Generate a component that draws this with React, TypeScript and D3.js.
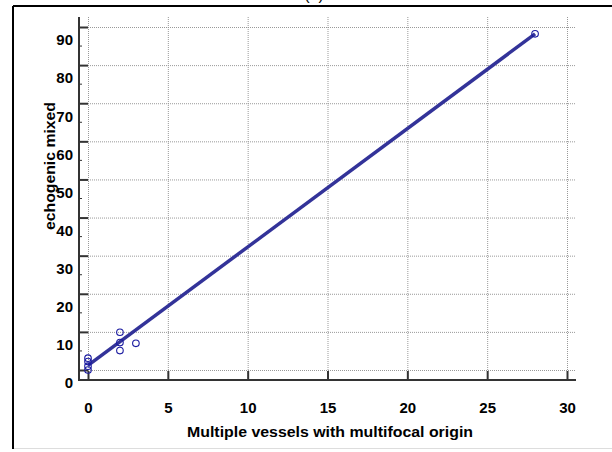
import React, { useEffect, useRef } from 'react';
import * as d3 from 'd3';

// observed points
const vessels = [0, 0, 0, 0, 2, 2, 2, 3, 28];
const mixed = [3.1, 2.2, 1, 0, 9.9, 7.2, 5.1, 7, 88.2];

// fitted line ends
const fitX = [0, 28];
const fitY = [1.2, 88.2];

const xTicks = [0, 5, 10, 15, 20, 25, 30];
const yTicks = [0, 10, 20, 30, 40, 50, 60, 70, 80, 90];
const yMinor = [5, 15, 25, 35, 45, 55, 65, 75, 85];

const FONT = '"Liberation Sans", Arial, sans-serif';

export default function App() {
  const ref = useRef<SVGSVGElement>(null);

  useEffect(() => {
    const svg = d3.select(ref.current);
    svg.selectAll('*').remove();

    const xScale = d3.scaleLinear().domain([0, 30]).range([88, 567]);
    const yScale = d3.scaleLinear().domain([0, 90]).range([370, 27]);

    const axisX = xScale(0) - 9;
    const axisY = yScale(0) + 10;
    const xEnd = xScale(30) + 9;
    const yTop = yScale(90) - 10;

    // frame
    svg.append('line').attr('x1', 13).attr('y1', 6).attr('x2', 612).attr('y2', 6)
      .attr('stroke', '#000').attr('stroke-width', 2);
    svg.append('line').attr('x1', 13).attr('y1', 6).attr('x2', 13).attr('y2', 449)
      .attr('stroke', '#000').attr('stroke-width', 2);
    svg.append('line').attr('x1', 14).attr('y1', 448.5).attr('x2', 612).attr('y2', 448.5)
      .attr('stroke', '#ddd').attr('stroke-width', 1);

    // title, cut by the top of the frame as in the original
    svg.append('text').attr('x', 314).attr('y', -0.5).attr('text-anchor', 'middle')
      .style('font-family', FONT).style('font-size', '16px').text('(b)');

    // grid
    const grid = svg.append('g').attr('stroke', '#999').attr('stroke-width', 1)
      .attr('stroke-dasharray', '1,1');
    grid.selectAll('.vg').data(xTicks).join('line').attr('class', 'vg')
      .attr('x1', d => xScale(d) + 0.5).attr('x2', d => xScale(d) + 0.5)
      .attr('y1', yTop).attr('y2', axisY);
    grid.selectAll('.hg').data(yTicks).join('line').attr('class', 'hg')
      .attr('x1', xScale(0)).attr('x2', xEnd)
      .attr('y1', d => yScale(d) + 0.5).attr('y2', d => yScale(d) + 0.5);

    // y axis
    const yAxis = d3.axisLeft(yScale).tickValues(yTicks).tickSizeInner(-9).tickSizeOuter(0).tickPadding(6);
    const gy = svg.append('g').attr('transform', `translate(${axisX}, 0)`).call(yAxis);
    gy.select('.domain').remove();
    gy.selectAll('.tick line').attr('stroke', '#333').attr('stroke-width', 2);
    gy.selectAll('.tick text').attr('y', 13).style('font-family', FONT)
      .style('font-size', '15px').style('font-weight', 'bold').attr('fill', '#000');
    svg.selectAll('.ym').data(yMinor).join('line').attr('class', 'ym')
      .attr('x1', axisX).attr('x2', axisX + 3)
      .attr('y1', d => yScale(d)).attr('y2', d => yScale(d))
      .attr('stroke', '#333').attr('stroke-width', 1);

    // x axis
    const xAxis = d3.axisBottom(xScale).tickValues(xTicks).tickSizeInner(-9).tickSizeOuter(0).tickPadding(22);
    const gx = svg.append('g').attr('transform', `translate(0, ${axisY})`).call(xAxis);
    gx.select('.domain').remove();
    gx.selectAll('.tick line').attr('stroke', '#333').attr('stroke-width', 2);
    gx.selectAll('.tick text').style('font-family', FONT)
      .style('font-size', '15px').style('font-weight', 'bold').attr('fill', '#000');

    // axis lines
    svg.append('line').attr('x1', axisX).attr('x2', axisX).attr('y1', yTop).attr('y2', axisY + 1)
      .attr('stroke', '#333').attr('stroke-width', 2);
    svg.append('line').attr('x1', axisX - 1).attr('x2', xEnd).attr('y1', axisY).attr('y2', axisY)
      .attr('stroke', '#333').attr('stroke-width', 2);

    // fit line
    const line = d3.line<number>().x((d, i) => xScale(fitX[i])).y(d => yScale(d));
    svg.append('path').datum(fitY).attr('d', line).attr('fill', 'none')
      .attr('stroke', '#333399').attr('stroke-width', 3.5);

    // points
    svg.selectAll('.pt').data(vessels).join('circle').attr('class', 'pt')
      .attr('cx', d => xScale(d)).attr('cy', (d, i) => yScale(mixed[i]))
      .attr('r', 3.3).attr('fill', 'none').attr('stroke', '#1a1aa0').attr('stroke-width', 1.1);

    // axis titles
    svg.append('text').attr('x', 330).attr('y', 437).attr('text-anchor', 'middle')
      .attr('textLength', 286).attr('lengthAdjust', 'spacingAndGlyphs')
      .style('font-family', FONT).style('font-size', '15px').style('font-weight', 'bold')
      .text('Multiple vessels with multifocal origin');
    svg.append('text').attr('transform', 'rotate(-90)').attr('x', -166).attr('y', 55)
      .attr('text-anchor', 'middle')
      .attr('textLength', 128).attr('lengthAdjust', 'spacingAndGlyphs')
      .style('font-family', FONT).style('font-size', '15px').style('font-weight', 'bold')
      .text('echogenic mixed');
  }, []);

  return (
    <div style={{ position: 'absolute', left: 0, top: 0 }}>
      <svg ref={ref} width={612} height={452} style={{ display: 'block', background: '#fff' }} />
    </div>
  );
}
